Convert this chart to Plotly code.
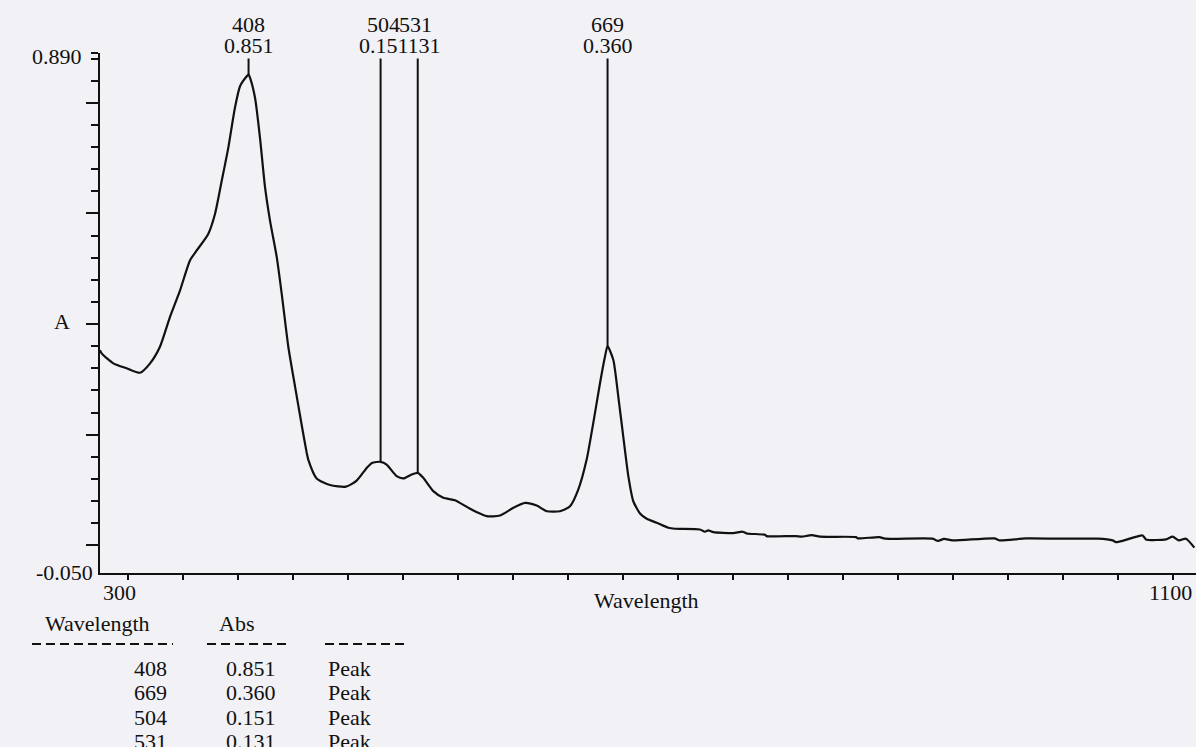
import plotly.graph_objects as go

# ---- spectrum ----
wavelength = [300, 301.2, 309.7, 319.4, 329.1, 336.4, 343.6, 350.9, 358.2, 365.4,
              370.3, 378.7, 383.6, 388.5, 393.3, 398.1, 401.8, 406.7, 408, 409.1,
              412.7, 416.3, 420.0, 423.6, 428.5, 432.1, 436.9, 441.8, 446.6, 450.3,
              451.4, 457.5, 467.2, 478.8, 486.6, 493.9, 497.7, 504, 508.4, 515.7,
              520.5, 526.6, 531, 535.0, 542.3, 549.6, 558.1, 566.6, 573.9, 581.1,
              590.8, 600.5, 609.0, 617.5, 624.8, 634.4, 641.7, 647.7, 653.8, 658.6,
              663.5, 667.1, 669, 673.2, 676.8, 680.4, 684.1, 687.7, 692.6, 697.5,
              704.7, 713.2, 718.0, 736.2, 739.8, 742.2, 745.9, 760.4, 767.2, 770.2,
              783.5, 784.7, 806.0, 810.1, 817.4, 823.5, 849.6, 850.9, 866.6, 870.7,
              905.3, 909.2, 913.6, 919.9, 950.2, 954.3, 973.2, 1003.5, 1025.3, 1036.2,
              1038.6, 1044.5, 1058.0, 1060.4, 1075.0, 1079.8, 1084.4, 1089.5, 1095.6]
absorbance = [0.353, 0.347, 0.329, 0.320, 0.312, 0.329, 0.359, 0.413, 0.461, 0.515,
              0.533, 0.563, 0.599, 0.659, 0.719, 0.791, 0.830, 0.848, 0.851, 0.845,
              0.809, 0.737, 0.647, 0.587, 0.521, 0.455, 0.359, 0.287, 0.218, 0.167,
              0.155, 0.121, 0.109, 0.106, 0.117, 0.140, 0.149, 0.151, 0.146, 0.125,
              0.121, 0.128, 0.131, 0.122, 0.098, 0.086, 0.0815, 0.0696, 0.060, 0.0527,
              0.0539, 0.0678, 0.0768, 0.0719, 0.0617, 0.0617, 0.0707, 0.1007, 0.155, 0.221,
              0.293, 0.341, 0.360, 0.335, 0.269, 0.197, 0.125, 0.0797, 0.0575, 0.048,
              0.0408, 0.0318, 0.0300, 0.0287, 0.0246, 0.0270, 0.0239, 0.0221, 0.0246, 0.0215,
              0.0192, 0.0167, 0.0167, 0.0156, 0.0185, 0.0156, 0.0149, 0.0126, 0.0149, 0.0120,
              0.0120, 0.008, 0.0117, 0.0089, 0.0126, 0.0089, 0.0126, 0.012, 0.012, 0.0089,
              0.0058, 0.0089, 0.0179, 0.0107, 0.0107, 0.0156, 0.0089, 0.012, -0.0042]

# ---- peak table ----
peak_wl = [408, 669, 504, 531]
peak_abs = [0.851, 0.360, 0.151, 0.131]
peak_kind = ["Peak", "Peak", "Peak", "Peak"]

# ---- axes ----
x_range = [300, 1096.8]
y_range = [-0.05, 0.89]
x_end_labels = ["300", "1100"]
y_end_labels = ["-0.050", "0.890"]
x_ticks = list(range(320, 1081, 40))
y_major = [0.0, 0.2, 0.4, 0.6, 0.8]
y_minor = [round(0.04 * i, 2) for i in range(1, 23) if (i % 5) != 0] + [0.89]

FONT = "Liberation Serif"
FS = 22
INK = "#111111"
BG = "#f2f2f6"

W, H = 1196, 747
ML, MR, MT, MB = 100, 0, 53, 174
PW = W - ML - MR
PH = H - MT - MB


def px_to_paper(px, py):
    return (px - ML) / PW, (H - MB - py) / PH


fig = go.Figure()

# peak marker lines (from peak to top of axes)
for wl, a in zip(peak_wl, peak_abs):
    fig.add_trace(go.Scatter(x=[wl, wl], y=[a, y_range[1]], mode="lines",
                             line=dict(color=INK, width=2), hoverinfo="skip",
                             showlegend=False))

fig.add_trace(go.Scatter(x=wavelength, y=absorbance, mode="lines",
                         line=dict(color=INK, width=2.2, shape="spline", smoothing=0.6),
                         showlegend=False))

annotations = []

# peak labels above the plot: higher wavelengths first so lower ones print over them
label_nudge = {504: 3, 531: -2}
order = sorted(range(len(peak_wl)), key=lambda i: -peak_wl[i])
for i in order:   # value row (opaque, overprinting)
    annotations.append(dict(x=peak_wl[i], xref="x", y=1, yref="paper",
                            yshift=8, yanchor="middle", xanchor="center",
                            xshift=label_nudge.get(peak_wl[i], 0),
                            text=f"{peak_abs[i]:.3f}", showarrow=False,
                            bgcolor=BG, borderpad=0,
                            font=dict(family=FONT, size=FS, color=INK)))
for i in order:   # wavelength row
    annotations.append(dict(x=peak_wl[i], xref="x", y=1, yref="paper",
                            yshift=29, yanchor="middle", xanchor="center",
                            xshift=label_nudge.get(peak_wl[i], 0),
                            text=str(peak_wl[i]), showarrow=False,
                            font=dict(family=FONT, size=FS, color=INK)))

# axis end labels
annotations.append(dict(x=x_range[0], xref="x", y=0, yref="paper", yshift=-19,
                        xanchor="left", yanchor="middle", xshift=1,
                        text=x_end_labels[0], showarrow=False,
                        font=dict(family=FONT, size=FS, color=INK)))
annotations.append(dict(x=1, xref="paper", y=0, yref="paper", yshift=-19,
                        xanchor="right", yanchor="middle", xshift=-2,
                        text=x_end_labels[1], showarrow=False,
                        font=dict(family=FONT, size=FS, color=INK)))
annotations.append(dict(x=0, xref="paper", y=y_range[0], yref="y", yshift=1,
                        xanchor="right", yanchor="middle", xshift=-5,
                        text=y_end_labels[0], showarrow=False,
                        font=dict(family=FONT, size=FS, color=INK)))
annotations.append(dict(x=0, xref="paper", y=y_range[1], yref="y", yshift=-3,
                        xanchor="right", yanchor="middle", xshift=-16,
                        text=y_end_labels[1], showarrow=False,
                        font=dict(family=FONT, size=FS, color=INK)))
# axis titles
annotations.append(dict(x=0, xref="paper", y=0.4, yref="y", yshift=3,
                        xanchor="center", yanchor="middle", xshift=-38,
                        text="A", showarrow=False,
                        font=dict(family=FONT, size=FS, color=INK)))
annotations.append(dict(x=697, xref="x", y=0, yref="paper", yshift=-27,
                        xanchor="center", yanchor="middle",
                        text="Wavelength", showarrow=False,
                        font=dict(family=FONT, size=FS, color=INK)))

# peak table below the chart
header_y = 623
row_y0, row_dy = 668, 24.5
tx, ty = px_to_paper(43, header_y)
annotations.append(dict(x=tx, y=ty, xref="paper", yref="paper", xanchor="left",
                        yanchor="middle", text="Wavelength", showarrow=False,
                        font=dict(family=FONT, size=FS, color=INK)))
tx, ty = px_to_paper(236, header_y)
annotations.append(dict(x=tx, y=ty, xref="paper", yref="paper", xanchor="center",
                        yanchor="middle", text="Abs", showarrow=False,
                        font=dict(family=FONT, size=FS, color=INK)))
for r, (wl, a, k) in enumerate(zip(peak_wl, peak_abs, peak_kind)):
    py = row_y0 + r * row_dy
    for txt, px, anchor in ((str(wl), 169, "right"), (f"{a:.3f}", 251, "center"),
                            (k, 326, "left")):
        tx, ty = px_to_paper(px, py)
        annotations.append(dict(x=tx, y=ty, xref="paper", yref="paper",
                                xanchor=anchor, yanchor="middle", text=txt,
                                showarrow=False,
                                font=dict(family=FONT, size=FS, color=INK)))

shapes = []
for x0, x1 in ((32, 173), (207, 289), (325, 407)):
    a0, b0 = px_to_paper(x0, 644)
    a1, _ = px_to_paper(x1, 644)
    shapes.append(dict(type="line", xref="paper", yref="paper", x0=a0, x1=a1,
                       y0=b0, y1=b0, line=dict(color=INK, width=2, dash="9px,5px")))

fig.update_layout(
    width=W, height=H,
    margin=dict(l=ML, r=MR, t=MT, b=MB, pad=0),
    paper_bgcolor=BG, plot_bgcolor=BG,
    showlegend=False,
    annotations=annotations,
    shapes=shapes,
    xaxis=dict(range=x_range, showgrid=False, zeroline=False, showline=True,
               linecolor=INK, linewidth=2, ticks="outside", tickvals=x_ticks,
               ticklen=5, tickwidth=2, tickcolor=INK, showticklabels=False,
               fixedrange=True),
    yaxis=dict(range=y_range, showgrid=False, zeroline=False, showline=True,
               linecolor=INK, linewidth=2, ticks="outside", tickvals=y_major,
               ticklen=12, tickwidth=2, tickcolor=INK, showticklabels=False,
               minor=dict(tickvals=y_minor, ticks="outside", ticklen=7,
                          tickwidth=2, tickcolor=INK, showgrid=False),
               fixedrange=True),
)

fig.write_html(
    "out.html",
    config={"displayModeBar": False},
    post_script="document.body.style.margin='0';document.body.style.overflow='hidden';"
                "document.body.style.background='" + BG + "';",
)
